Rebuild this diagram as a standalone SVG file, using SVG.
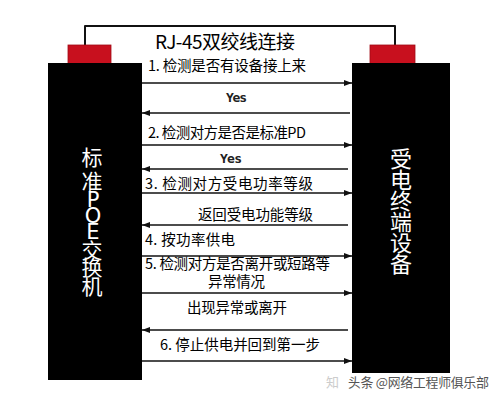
<svg xmlns="http://www.w3.org/2000/svg" width="500" height="400" viewBox="0 0 500 400">
<style>
.box{fill:#000}
.plug{fill:#c8101e;stroke:#a00c16;stroke-width:0.8}
.wire{fill:none;stroke:#111;stroke-width:2;stroke-linejoin:round}
.arr{stroke:#111;stroke-width:1.3;fill:none}
.lbl{font-family:"Noto Sans CJK SC","Noto Sans",sans-serif;font-size:14.5px;fill:#000}
.yes{font-family:"DejaVu Sans Mono","Liberation Mono",monospace;font-size:13px;font-weight:bold;fill:#222}
.vt{font-family:"Noto Sans CJK SC","Noto Sans",sans-serif;fill:#fff;text-anchor:middle}
.lat{font-family:"DejaVu Sans","Noto Sans",sans-serif;font-size:21px}
.wm{font-family:"Noto Sans CJK SC",sans-serif;font-size:13px;fill:#555;stroke:#fff;stroke-width:2.5;paint-order:stroke}
</style>
<defs>
<marker id="ah" viewBox="0 0 8 6" refX="8" refY="3" markerWidth="8" markerHeight="6" markerUnits="userSpaceOnUse" orient="auto">
<path d="M0,0 L8,3 L0,6 Z" fill="#111"/>
</marker>
</defs>
<rect width="500" height="400" fill="#fff"/>
<g id="cable">
<path class="wire" d="M85,45 V26 H395 V45"/>
<text class="lbl" x="155" y="49" style="font-size:19px" textLength="140">RJ-45双绞线连接</text>
</g>
<g id="switch">
<rect class="plug" x="68" y="45" width="43" height="19"/>
<rect class="box" x="48" y="63" width="94" height="317"/>
<text class="vt" style="font-size:21px"><tspan x="92" y="165">标</tspan><tspan x="92" y="189">准</tspan><tspan class="lat" x="93" y="207">P</tspan><tspan class="lat" x="93" y="223">O</tspan><tspan class="lat" x="93" y="239">E</tspan><tspan x="92" y="258">交</tspan><tspan x="92" y="275">换</tspan><tspan x="92" y="294">机</tspan></text>
</g>
<g id="pd">
<rect class="plug" x="370" y="45" width="45" height="19"/>
<rect class="box" x="352" y="63" width="98" height="310"/>
<text class="vt" style="font-size:22px"><tspan x="401" y="167">受</tspan><tspan x="401" y="188">电</tspan><tspan x="401" y="209">终</tspan><tspan x="401" y="230">端</tspan><tspan x="401" y="251">设</tspan><tspan x="401" y="272">备</tspan></text>
</g>
<g id="connectors">
<line class="arr" x1="142" y1="83" x2="352" y2="83" marker-end="url(#ah)"/>
<line class="arr" x1="350" y1="113" x2="142" y2="113" marker-end="url(#ah)"/>
<line class="arr" x1="142" y1="145" x2="352" y2="145" marker-end="url(#ah)"/>
<line class="arr" x1="348" y1="169" x2="142" y2="169" marker-end="url(#ah)"/>
<line class="arr" x1="142" y1="193" x2="352" y2="193" marker-end="url(#ah)"/>
<line class="arr" x1="348" y1="225" x2="142" y2="225" marker-end="url(#ah)"/>
<line class="arr" x1="142" y1="256" x2="352" y2="256" marker-end="url(#ah)"/>
<line class="arr" x1="142" y1="293" x2="352" y2="293" marker-end="url(#ah)"/>
<line class="arr" x1="348" y1="330" x2="142" y2="330" marker-end="url(#ah)"/>
<line class="arr" x1="142" y1="361" x2="352" y2="361" marker-end="url(#ah)"/>
</g>
<g id="labels">
<text class="lbl" x="148" y="71" textLength="158">1. 检测是否有设备接上来</text>
<text class="yes" x="226" y="102" textLength="21">Yes</text>
<text class="lbl" x="148" y="138" textLength="158">2. 检测对方是否是标准PD</text>
<text class="yes" x="220" y="163" textLength="22">Yes</text>
<text class="lbl" x="145" y="189" textLength="168">3. 检测对方受电功率等级</text>
<text class="lbl" x="198" y="220" textLength="115">返回受电功能等级</text>
<text class="lbl" x="145" y="245" textLength="90">4. 按功率供电</text>
<text class="lbl"><tspan x="145" y="269" textLength="185">5. 检测对方是否离开或短路等</tspan><tspan x="208" y="287" textLength="57">异常情况</tspan></text>
<text class="lbl" x="187" y="313" textLength="100">出现异常或离开</text>
<text class="lbl" x="160" y="350" textLength="160">6. 停止供电并回到第一步</text>
</g>
<g id="watermark">
<text class="wm" x="326" y="387" style="fill:#ccc;stroke:none">知</text>
<text class="wm" x="348" y="387" textLength="141">头条 @网络工程师俱乐部</text>
</g>
</svg>
